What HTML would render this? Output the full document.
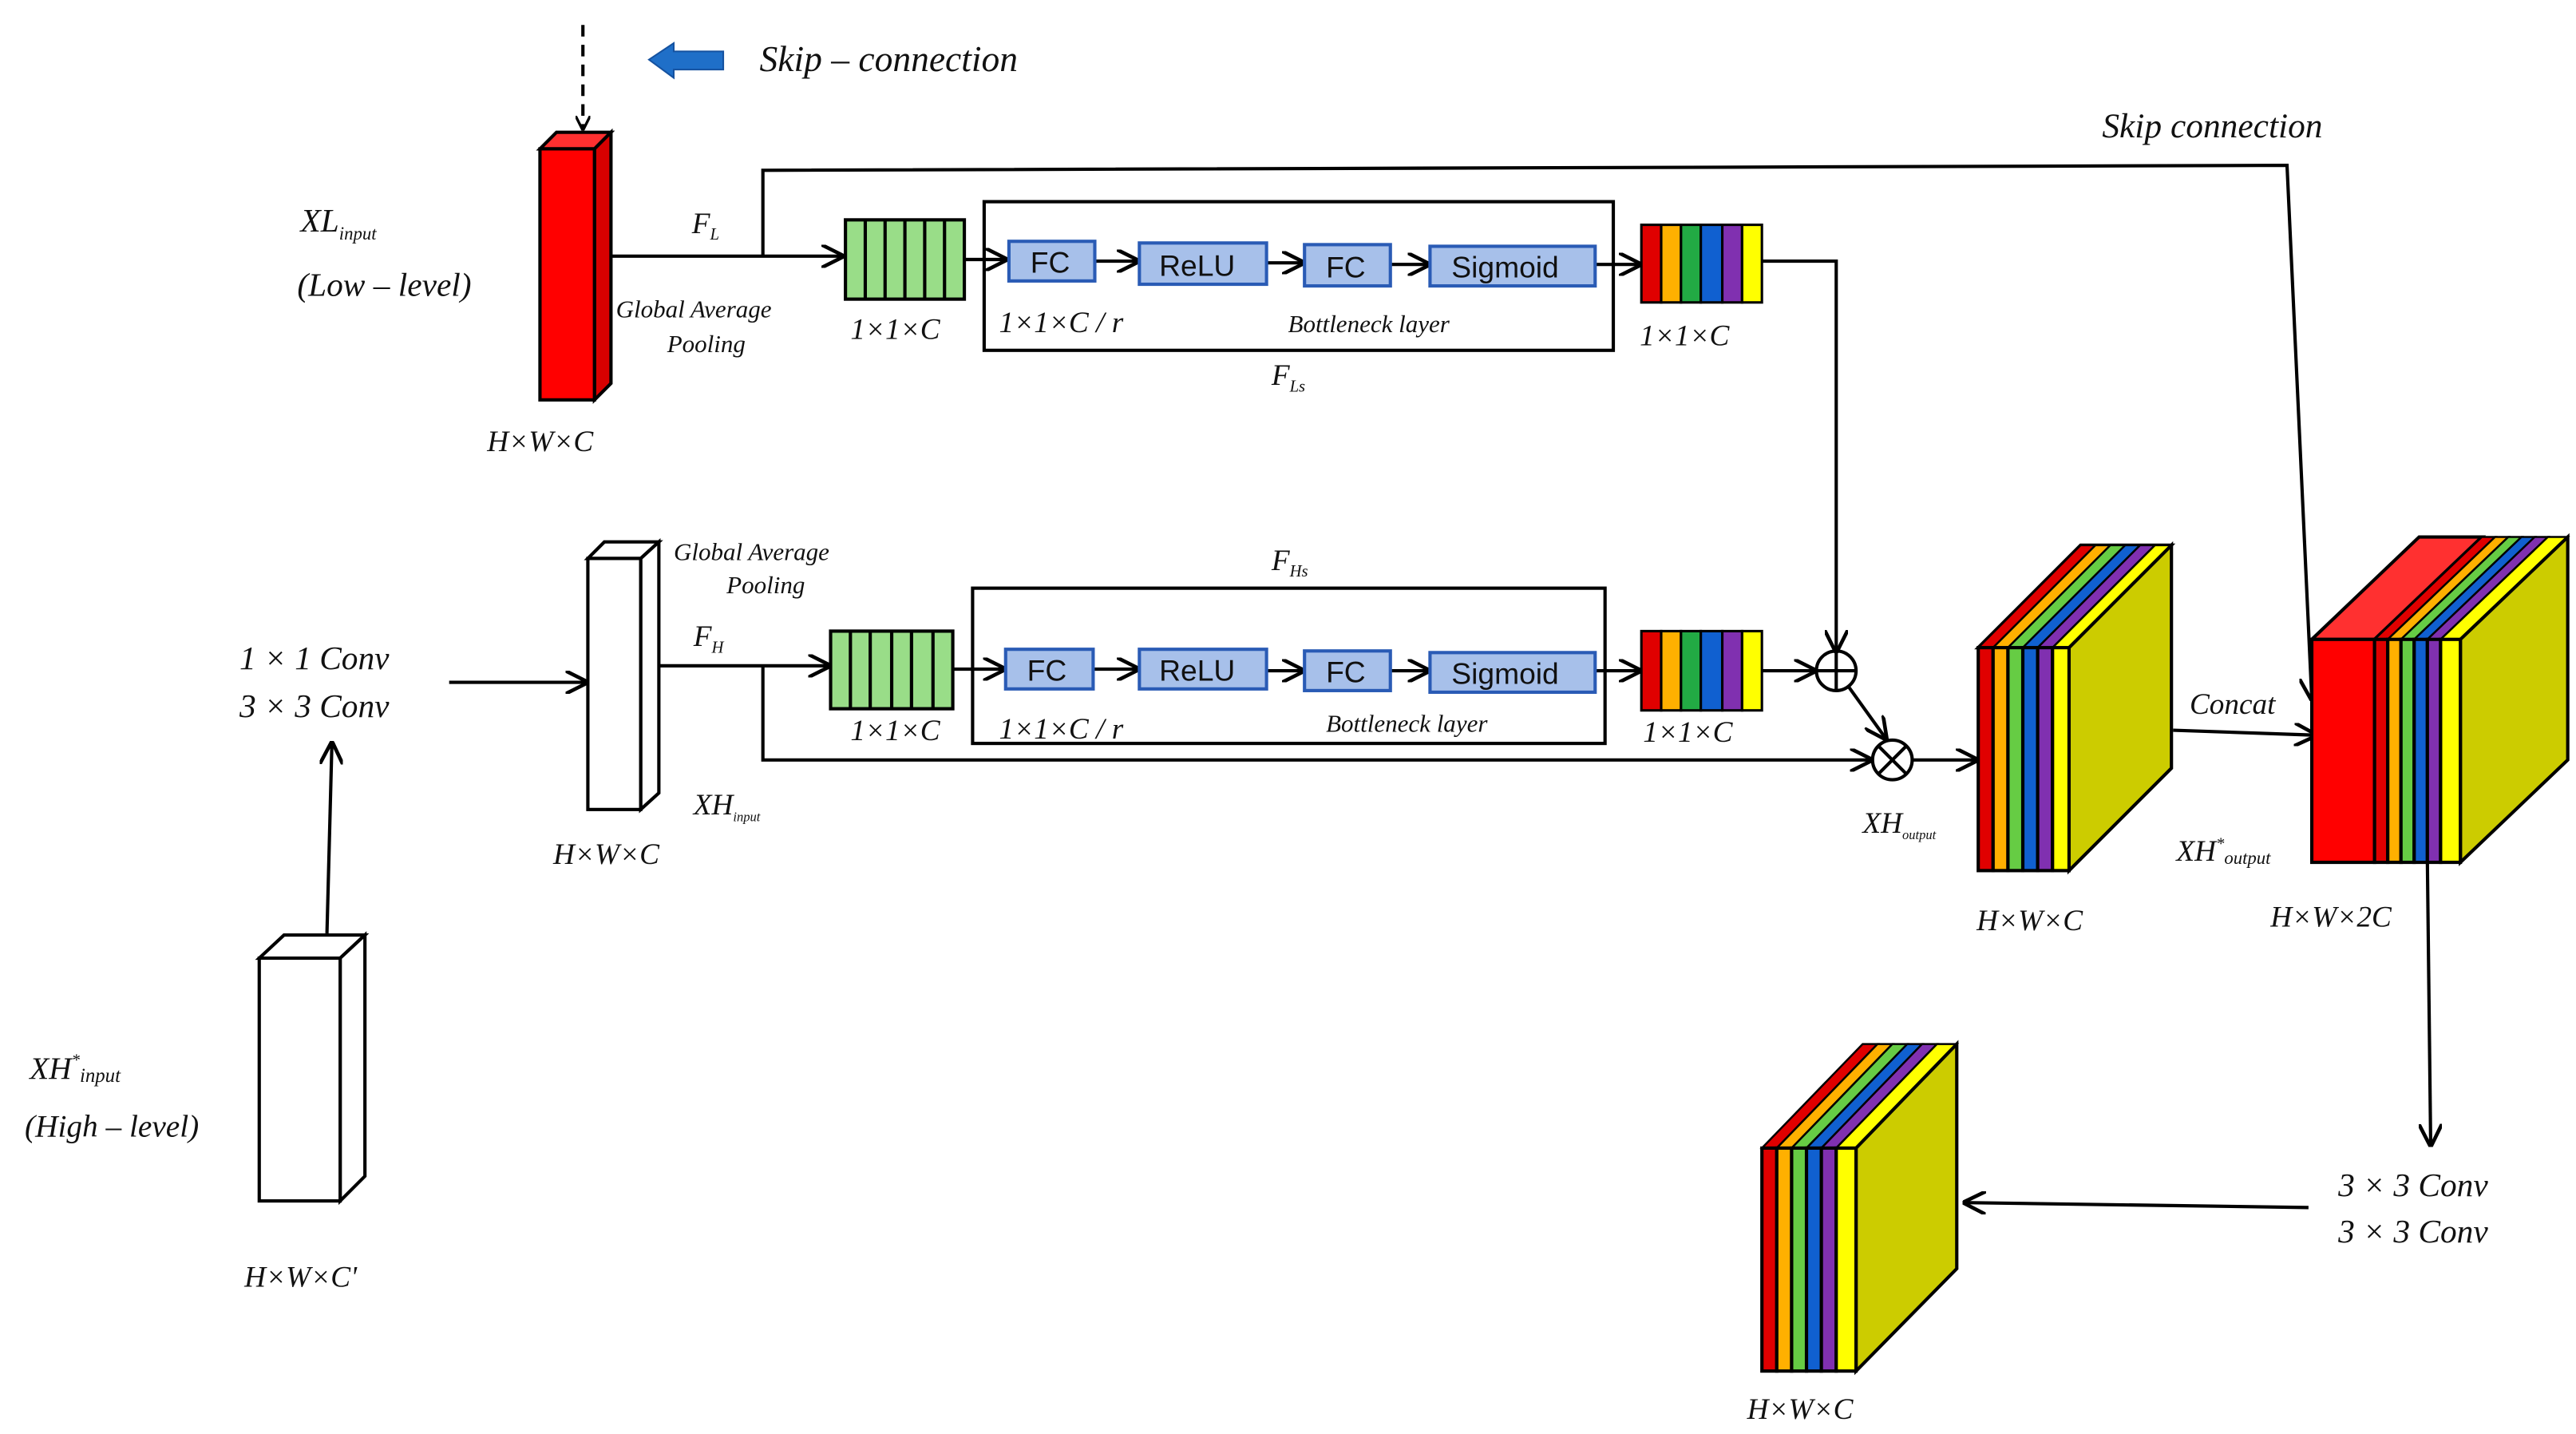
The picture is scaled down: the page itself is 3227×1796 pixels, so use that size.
<!DOCTYPE html>
<html><head><meta charset="utf-8"><style>
html,body{margin:0;padding:0;background:#fff}
svg{display:block}
text{font-family:"Liberation Serif",serif;font-style:italic;fill:#111}
.s{font-family:"Liberation Sans",sans-serif;font-style:normal;font-size:18px;fill:#111}
</style></head><body>
<svg width="3227" height="1796" viewBox="0 0 1560 868" xmlns="http://www.w3.org/2000/svg">
<defs>
<marker id="a" viewBox="0 0 10 10" refX="9" refY="5" markerWidth="9" markerHeight="9" orient="auto" markerUnits="userSpaceOnUse"><path d="M0,0 L10,5 L0,10" fill="none" stroke="#000" stroke-width="1.8"/></marker>
<marker id="b" viewBox="0 0 10 10" refX="9" refY="5" markerWidth="14" markerHeight="14" orient="auto" markerUnits="userSpaceOnUse"><path d="M0,0 L10,5 L0,10" fill="none" stroke="#000" stroke-width="1.6"/></marker>
</defs>
<g stroke="#000" stroke-width="2" fill="none">
<!-- dashed arrow -->
<line x1="353" y1="15" x2="353" y2="78" stroke-dasharray="7,5" marker-end="url(#a)"/>
<!-- red column -->
<polygon points="327,90 337,80 370,80 360,90" fill="#ff3030"/>
<polygon points="360,90 370,80 370,232 360,242" fill="#d80000"/>
<rect x="327" y="90" width="33" height="152" fill="#ff0000"/>
<!-- top row lines -->
<line x1="370" y1="155" x2="510" y2="155" marker-end="url(#b)"/>
<polyline points="462,155 462,103 1385,100 1400,423" marker-end="url(#b)"/>
<line x1="584" y1="157" x2="609" y2="157" marker-end="url(#b)"/>
<line x1="663" y1="158" x2="689" y2="158" marker-end="url(#b)"/>
<line x1="767" y1="159" x2="789" y2="159" marker-end="url(#b)"/>
<line x1="842" y1="160" x2="865" y2="160" marker-end="url(#b)"/>
<line x1="966" y1="160" x2="993" y2="160" marker-end="url(#b)"/>
<polyline points="1067,158 1112,158 1112,394" marker-end="url(#b)"/>
<rect x="596" y="122" width="381" height="90"/>
<!-- lower row -->
<line x1="272" y1="413" x2="355" y2="413" marker-end="url(#b)"/>
<line x1="198" y1="565" x2="201" y2="450" marker-end="url(#b)"/>
<line x1="399" y1="403" x2="502" y2="403" marker-end="url(#b)"/>
<polyline points="462,403 462,460 1133,460" marker-end="url(#b)"/>
<line x1="577" y1="405" x2="608" y2="405" marker-end="url(#b)"/>
<line x1="662" y1="405" x2="689" y2="405" marker-end="url(#b)"/>
<line x1="767" y1="406" x2="789" y2="406" marker-end="url(#b)"/>
<line x1="842" y1="406" x2="865" y2="406" marker-end="url(#b)"/>
<line x1="966" y1="406" x2="993" y2="406" marker-end="url(#b)"/>
<line x1="1067" y1="406" x2="1099" y2="406" marker-end="url(#b)"/>
<line x1="1119" y1="415" x2="1142" y2="447" marker-end="url(#b)"/>
<line x1="1158" y1="460" x2="1197" y2="460" marker-end="url(#b)"/>
<rect x="589" y="356" width="383" height="94"/>
<circle cx="1112" cy="406" r="12"/><line x1="1100" y1="406" x2="1124" y2="406"/><line x1="1112" y1="394" x2="1112" y2="418"/>
<circle cx="1146" cy="460" r="12"/><line x1="1138" y1="452" x2="1154" y2="468"/><line x1="1154" y1="452" x2="1138" y2="468"/>
<line x1="1316" y1="442" x2="1402" y2="445" marker-end="url(#b)"/>
<line x1="1470" y1="522" x2="1472" y2="693" marker-end="url(#b)"/>
<line x1="1398" y1="731" x2="1190" y2="728" marker-end="url(#b)"/>
<!-- white columns -->
<polygon points="356,338 366,328 399,328 388,338" fill="#fff"/>
<polygon points="388,338 399,328 399,480 388,490" fill="#fff"/>
<rect x="356" y="338" width="32" height="152" fill="#fff"/>
<polygon points="157,580 172,566 221,566 206,580" fill="#fff"/>
<polygon points="206,580 221,566 221,712 206,727" fill="#fff"/>
<rect x="157" y="580" width="49" height="147" fill="#fff"/>
</g>
<!-- blue arrow -->
<polygon points="393,36 408,26 408,31 438,31 438,42 408,42 408,47" fill="#1f6fc8" stroke="#1552a0" stroke-width="1"/>
<!-- green boxes -->
<g stroke="#000" stroke-width="2" fill="#99dd88">
<rect x="512" y="133" width="72" height="48"/>
<rect x="503" y="382" width="74" height="47"/>
</g>
<g stroke="#000" stroke-width="2">
<line x1="524" y1="133" x2="524" y2="181"/><line x1="536" y1="133" x2="536" y2="181"/><line x1="548" y1="133" x2="548" y2="181"/><line x1="560" y1="133" x2="560" y2="181"/><line x1="572" y1="133" x2="572" y2="181"/>
<line x1="515" y1="382" x2="515" y2="429"/><line x1="527" y1="382" x2="527" y2="429"/><line x1="540" y1="382" x2="540" y2="429"/><line x1="552" y1="382" x2="552" y2="429"/><line x1="565" y1="382" x2="565" y2="429"/>
</g>
<!-- rainbow boxes -->
<g stroke="#000" stroke-width="1.5">
<rect x="994" y="136" width="12" height="47" fill="#e00000"/><rect x="1006" y="136" width="12" height="47" fill="#ffb000"/><rect x="1018" y="136" width="12" height="47" fill="#22aa44"/><rect x="1030" y="136" width="13" height="47" fill="#1060d0"/><rect x="1043" y="136" width="12" height="47" fill="#8030b0"/><rect x="1055" y="136" width="12" height="47" fill="#ffff00"/>
<rect x="994" y="382" width="12" height="48" fill="#e00000"/><rect x="1006" y="382" width="12" height="48" fill="#ffb000"/><rect x="1018" y="382" width="12" height="48" fill="#22aa44"/><rect x="1030" y="382" width="13" height="48" fill="#1060d0"/><rect x="1043" y="382" width="12" height="48" fill="#8030b0"/><rect x="1055" y="382" width="12" height="48" fill="#ffff00"/>
</g>
<!-- blue blocks -->
<g fill="#a7c0ea" stroke="#2a5bb5" stroke-width="2">
<rect x="611" y="146" width="52" height="24"/><rect x="690" y="147" width="77" height="25"/><rect x="790" y="148" width="52" height="25"/><rect x="866" y="149" width="100" height="24"/>
<rect x="609" y="393" width="53" height="24"/><rect x="690" y="393" width="77" height="24"/><rect x="790" y="394" width="52" height="24"/><rect x="866" y="395" width="100" height="24"/>
</g>
<text class="s" x="624" y="165">FC</text><text class="s" x="702" y="167">ReLU</text><text class="s" x="803" y="168">FC</text><text class="s" x="879" y="168">Sigmoid</text>
<text class="s" x="622" y="412">FC</text><text class="s" x="702" y="412">ReLU</text><text class="s" x="803" y="413">FC</text><text class="s" x="879" y="414">Sigmoid</text>
<!-- cubes -->
<g stroke="#000" stroke-width="2">
<!-- cube1 -->
<polygon points="1198,392 1260,330 1315,330 1253,392" fill="#cccc00"/>
<g stroke-width="1.2">
<polygon points="1198,392 1260,330 1269,330 1207,392" fill="#e00000"/><polygon points="1207,392 1269,330 1278,330 1216,392" fill="#ffb000"/><polygon points="1216,392 1278,330 1287,330 1225,392" fill="#66cc44"/><polygon points="1225,392 1287,330 1296,330 1234,392" fill="#1060d0"/><polygon points="1234,392 1296,330 1305,330 1243,392" fill="#8030b0"/><polygon points="1243,392 1305,330 1315,330 1253,392" fill="#ffff00"/>
</g>
<polygon points="1253,392 1315,330 1315,465 1253,527" fill="#cccc00"/>
<rect x="1198" y="392" width="9" height="135" fill="#e00000"/><rect x="1207" y="392" width="9" height="135" fill="#ffb000"/><rect x="1216" y="392" width="9" height="135" fill="#66cc44"/><rect x="1225" y="392" width="9" height="135" fill="#1060d0"/><rect x="1234" y="392" width="9" height="135" fill="#8030b0"/><rect x="1243" y="392" width="10" height="135" fill="#ffff00"/>
<!-- cube2 -->
<polygon points="1400,387 1465,325 1503,325 1438,387" fill="#ff3030"/>
<g stroke-width="1.2">
<polygon points="1438,387 1503,325 1511,325 1446,387" fill="#e00000"/><polygon points="1446,387 1511,325 1519,325 1454,387" fill="#ffb000"/><polygon points="1454,387 1519,325 1527,325 1462,387" fill="#66cc44"/><polygon points="1462,387 1527,325 1535,325 1470,387" fill="#1060d0"/><polygon points="1470,387 1535,325 1543,325 1478,387" fill="#8030b0"/><polygon points="1478,387 1543,325 1555,325 1490,387" fill="#ffff00"/>
</g>
<polygon points="1490,387 1555,325 1555,460 1490,522" fill="#cccc00"/>
<rect x="1400" y="387" width="38" height="135" fill="#ff0000"/>
<rect x="1438" y="387" width="8" height="135" fill="#e00000"/><rect x="1446" y="387" width="8" height="135" fill="#ffb000"/><rect x="1454" y="387" width="8" height="135" fill="#66cc44"/><rect x="1462" y="387" width="8" height="135" fill="#1060d0"/><rect x="1470" y="387" width="8" height="135" fill="#8030b0"/><rect x="1478" y="387" width="12" height="135" fill="#ffff00"/>
<!-- cube3 -->
<g stroke-width="1.2">
<polygon points="1067,695 1128,632 1137,632 1076,695" fill="#e00000"/><polygon points="1076,695 1137,632 1146,632 1085,695" fill="#ffb000"/><polygon points="1085,695 1146,632 1155,632 1094,695" fill="#66cc44"/><polygon points="1094,695 1155,632 1164,632 1103,695" fill="#1060d0"/><polygon points="1103,695 1164,632 1173,632 1112,695" fill="#8030b0"/><polygon points="1112,695 1173,632 1185,632 1124,695" fill="#ffff00"/>
</g>
<polygon points="1124,695 1185,632 1185,768 1124,830" fill="#cccc00"/>
<rect x="1067" y="695" width="9" height="135" fill="#e00000"/><rect x="1076" y="695" width="9" height="135" fill="#ffb000"/><rect x="1085" y="695" width="9" height="135" fill="#66cc44"/><rect x="1094" y="695" width="9" height="135" fill="#1060d0"/><rect x="1103" y="695" width="9" height="135" fill="#8030b0"/><rect x="1112" y="695" width="12" height="135" fill="#ffff00"/>
</g>
<!-- labels -->
<text x="460" y="43" font-size="22">Skip – connection</text>
<text x="1273" y="83" font-size="21">Skip  connection</text>
<text x="182" y="140" font-size="20">XL<tspan font-size="11" dy="5">input</tspan></text>
<text x="180" y="179" font-size="20">(Low – level)</text>
<text x="295" y="273" font-size="18">H×W×C</text>
<text x="419" y="141" font-size="18">F<tspan font-size="10" dy="4">L</tspan></text>
<text x="373" y="192" font-size="15">Global Average</text>
<text x="404" y="213" font-size="15">Pooling</text>
<text x="515" y="205" font-size="18">1×1×C</text>
<text x="605" y="201" font-size="18">1×1×C / r</text>
<text x="780" y="201" font-size="15">Bottleneck layer</text>
<text x="770" y="233" font-size="18">F<tspan font-size="10" dy="4">Ls</tspan></text>
<text x="993" y="209" font-size="18">1×1×C</text>
<text x="408" y="339" font-size="15">Global Average</text>
<text x="440" y="359" font-size="15">Pooling</text>
<text x="770" y="345" font-size="18">F<tspan font-size="10" dy="4">Hs</tspan></text>
<text x="420" y="391" font-size="18">F<tspan font-size="10" dy="4">H</tspan></text>
<text x="145" y="405" font-size="20">1 × 1 Conv</text>
<text x="145" y="434" font-size="20">3 × 3 Conv</text>
<text x="515" y="448" font-size="18">1×1×C</text>
<text x="605" y="447" font-size="18">1×1×C / r</text>
<text x="803" y="443" font-size="15">Bottleneck layer</text>
<text x="995" y="449" font-size="18">1×1×C</text>
<text x="420" y="493" font-size="18">XH<tspan font-size="8" dy="4">input</tspan></text>
<text x="335" y="523" font-size="18">H×W×C</text>
<text x="1128" y="504" font-size="18">XH<tspan font-size="8" dy="4">output</tspan></text>
<text x="1197" y="563" font-size="18">H×W×C</text>
<text x="1326" y="432" font-size="18">Concat</text>
<text x="1318" y="521" font-size="18">XH<tspan font-size="10" dy="-7">*</tspan><tspan font-size="11" dy="9">output</tspan></text>
<text x="1375" y="561" font-size="18">H×W×2C</text>
<text x="1416" y="724" font-size="20">3 × 3 Conv</text>
<text x="1416" y="752" font-size="20">3 × 3 Conv</text>
<text x="1058" y="859" font-size="18">H×W×C</text>
<text x="18" y="653" font-size="19">XH<tspan font-size="10" dy="-8">*</tspan><tspan font-size="12" dy="10">input</tspan></text>
<text x="15" y="688" font-size="19">(High – level)</text>
<text x="148" y="779" font-size="18">H×W×C'</text>
</svg>
</body></html>
